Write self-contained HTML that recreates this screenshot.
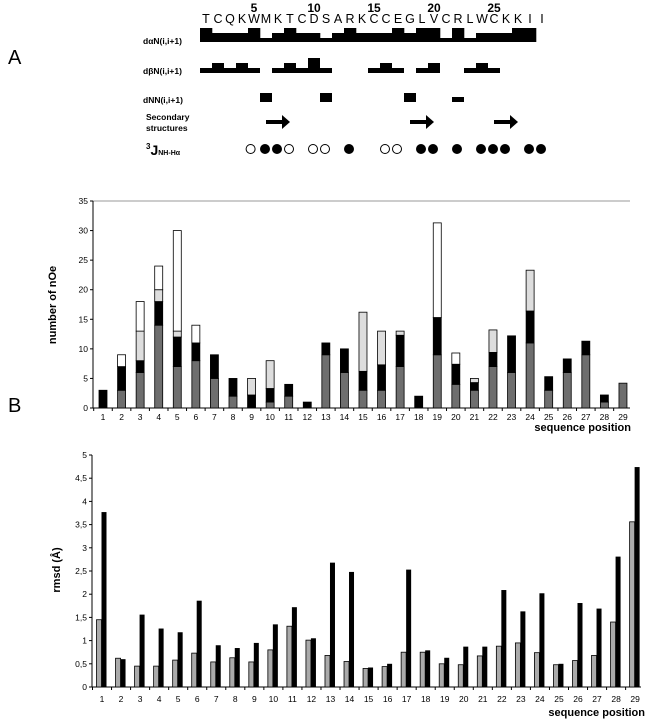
<!DOCTYPE html>
<html><head><meta charset="utf-8"><style>
body{margin:0;background:#fff;}
svg{display:block;font-family:"Liberation Sans",Arial,sans-serif;}
</style></head><body>
<svg id="fig" width="650" height="720" viewBox="0 0 650 720">
<g id="panelA">
<text x="8" y="64" font-size="20">A</text>
<text x="143" y="44" font-size="8.5" font-weight="bold">dαN(i,i+1)</text>
<text x="143" y="74" font-size="8.5" font-weight="bold">dβN(i,i+1)</text>
<text x="143" y="103" font-size="8.5" font-weight="bold">dNN(i,i+1)</text>
<text x="146" y="120" font-size="8.5" font-weight="bold">Secondary</text>
<text x="146" y="131" font-size="8.5" font-weight="bold">structures</text>
<text x="146" y="155" font-size="14" font-weight="bold"><tspan font-size="8" dy="-6">3</tspan><tspan dy="6">J</tspan><tspan font-size="7">NH-Hα</tspan></text>
</g>
<g id="chartB"></g>
<g id="chartC"></g>
<text x="8" y="412" font-size="20">B</text>
</svg>
<script>
const residues = ["T","C","Q","K","W","M","K","T","C","D","S","A","R","K","C","C","E","G","L","V","C","R","L","W","C","K","K","I","I"];
const residueNumbers = [5,10,15,20,25];
const danLevels = [2,1,1,1,2,0,1,2,1,1,0,1,2,1,1,1,2,1,2,2,0,2,0,1,1,1,2,2];
const dbnSegments = [[0,4],[6,10],[14,16],[18,19],[22,24]];
const dbnBumps = [[1,1],[3,1],[7,1],[9,2],[15,1],[19,1],[23,1]];
const dnnBlocks = [[5,1],[10,1],[17,1],[21,0.5]];
const strandArrows = [[5.5,7.5],[17.5,19.5],[24.5,26.5]];
const jResidues = [3.8,5,6,7,9,10,12,15,16,18,19,21,23,24,25,27,28];
const jFilled = [0,1,1,0,0,0,1,0,0,1,1,1,1,1,1,1,1];

const positions = [];for(let i=1;i<=29;i++)positions.push(i);
const noeGray =  [0,3,6,14,7,8,5,2,0,1,2,0,9,6,3,3,7,0,9,4,3,7,6,11,3,6,9,1,4.2];
const noeBlack = [3,7,8,18,12,11,9,5,2.2,3.3,4,1,11,10,6.2,7.3,12.3,2,15.3,7.4,4.3,9.4,12.2,16.4,5.3,8.3,11.3,2.2,4.2];
const noeLight = [3,7,13,20,13,11,9,5,5,8,4,1,11,10,16.2,13,13,2,15.3,7.4,5,13.2,12.2,23.3,5.3,8.3,11.3,2.2,4.2];
const noeWhite = [3,9,18,24,30,14,9,5,5,8,4,1,11,10,16.2,13,13,2,31.3,9.3,5,13.2,12.2,23.3,5.3,8.3,11.3,2.2,4.2];
const noeTicks = [0,5,10,15,20,25,30,35];

const rmsdGray =  [1.45,0.62,0.45,0.45,0.58,0.73,0.54,0.63,0.54,0.8,1.31,1.01,0.68,0.55,0.4,0.44,0.75,0.75,0.5,0.48,0.67,0.88,0.95,0.74,0.48,0.57,0.68,1.4,3.56];
const rmsdBlack = [3.77,0.6,1.56,1.26,1.18,1.86,0.9,0.84,0.95,1.35,1.72,1.05,2.68,2.48,0.42,0.5,2.53,0.79,0.63,0.87,0.87,2.09,1.63,2.02,0.5,1.81,1.69,2.81,4.74];
const rmsdTicks = ["0","0,5","1","1,5","2","2,5","3","3,5","4","4,5","5"];

const NS="http://www.w3.org/2000/svg";
function mk(parent,tag,attrs){const e=document.createElementNS(NS,tag);for(const k in attrs)e.setAttribute(k,attrs[k]);parent.appendChild(e);return e;}

// Panel A
const A=document.getElementById('panelA');
const rx=i=>200+12*i; // residue left edge
residues.forEach((r,i)=>{
  const t=mk(A,'text',{x:rx(i)+6,y:23,'font-size':12.5,'text-anchor':'middle'});
  t.textContent=r;
  
  
});
residueNumbers.forEach(n=>{
  const t=mk(A,'text',{x:rx(n-1)+6,y:12,'font-size':12,'font-weight':'bold','text-anchor':'middle'});
  t.textContent=n;
  
  
});
const danTop=[38,33,28];
danLevels.forEach((l,i)=>{
  const r=mk(A,'rect',{x:rx(i),y:danTop[l],width:12.3,height:42-danTop[l],fill:'#000'});
  
  
});
dbnSegments.forEach(s=>{
  const r=mk(A,'rect',{x:rx(s[0]),y:68,width:12*(s[1]-s[0]+1),height:5,fill:'#000'});
  
  
});
dbnBumps.forEach(b=>{
  const top=b[1]===2?58:63;
  const r=mk(A,'rect',{x:rx(b[0]),y:top,width:12,height:73-top,fill:'#000'});
  
  
});
dnnBlocks.forEach(b=>{
  const h=b[1]===1?9:5;
  const r=mk(A,'rect',{x:rx(b[0]),y:102-h,width:12,height:h,fill:'#000'});
  
  
});
strandArrows.forEach(a=>{
  const x1=rx(a[0])+6-6,x2=rx(a[1])+6-6;
  const g=mk(A,'g',{});
  
  
  mk(g,'rect',{x:x1,y:120,width:x2-x1-7,height:4,fill:'#000'});
  mk(g,'polygon',{points:`${x2-8},115 ${x2},122 ${x2-8},129`,fill:'#000'});
});
jResidues.forEach((r,i)=>{
  const c=mk(A,'circle',{cx:rx(r)+5,cy:149,r:4.5,fill:jFilled[i]?'#000':'#fff',stroke:'#000','stroke-width':1});
  
  
});

// Chart B (nOe)
const B=document.getElementById('chartB');
const bx0=93,bx1=630,by0=408,by1=201;
const byS=v=>by0-(v/35)*(by0-by1);
const bxC=p=>103+(p-1)*18.57;
mk(B,'line',{x1:bx0,y1:by1,x2:bx1,y2:by1,stroke:'#999','stroke-width':1});
mk(B,'line',{x1:bx0,y1:by1,x2:bx0,y2:by0,stroke:'#000','stroke-width':1});
mk(B,'line',{x1:bx0,y1:by0,x2:bx1,y2:by0,stroke:'#000','stroke-width':1});
noeTicks.forEach(t=>{
  mk(B,'line',{x1:bx0-3,y1:byS(t),x2:bx0,y2:byS(t),stroke:'#000'});
  const tx=mk(B,'text',{x:bx0-5,y:byS(t)+3,'font-size':8.5,'text-anchor':'end'});
  tx.textContent=t;
  
  
});
positions.forEach((p,i)=>{
  mk(B,'line',{x1:bxC(p)-9.3,y1:by0,x2:bxC(p)-9.3,y2:by0+3,stroke:'#000'});
  const tx=mk(B,'text',{x:bxC(p),y:by0+12,'font-size':8.5,'text-anchor':'middle'});
  tx.textContent=p;
  
  
  const segs=[[0,noeGray[i],'#6e6e6e'],[noeGray[i],noeBlack[i],'#000'],[noeBlack[i],noeLight[i],'#ddd'],[noeLight[i],noeWhite[i],'#fff']];
  segs.forEach((s,k)=>{
    if(s[1]-s[0]<=0)return;
    const r=mk(B,'rect',{x:bxC(p)-4,y:byS(s[1]),width:8,height:byS(s[0])-byS(s[1]),fill:s[2],stroke:'#000','stroke-width':0.8});
    
    
  });
});
const bt=mk(B,'text',{x:0,y:0,'font-size':11,'font-weight':'bold','text-anchor':'middle',transform:'translate(56,305) rotate(-90)'});
bt.textContent='number of nOe';


const bxt=mk(B,'text',{x:631,y:431,'font-size':11,'font-weight':'bold','text-anchor':'end'});
bxt.textContent='sequence position';



// Chart C (rmsd)
const C=document.getElementById('chartC');
const cx0=92,cx1=641,cy0=687,cy1=455;
const cyS=v=>cy0-(v/5)*(cy0-cy1);
const cxC=p=>102+(p-1)*19.04;
mk(C,'line',{x1:cx0,y1:cy1,x2:cx0,y2:cy0,stroke:'#000'});
mk(C,'line',{x1:cx0,y1:cy0,x2:cx1,y2:cy0,stroke:'#000'});
rmsdTicks.forEach((t,i)=>{
  const y=cyS(i*0.5);
  mk(C,'line',{x1:cx0-3,y1:y,x2:cx0,y2:y,stroke:'#000'});
  const tx=mk(C,'text',{x:cx0-5,y:y+3,'font-size':8.5,'text-anchor':'end'});
  tx.textContent=t;
  
  
});
positions.forEach((p,i)=>{
  mk(C,'line',{x1:cxC(p)-9.5,y1:cy0,x2:cxC(p)-9.5,y2:cy0+3,stroke:'#000'});
  const tx=mk(C,'text',{x:cxC(p),y:cy0+15,'font-size':8.5,'text-anchor':'middle'});
  tx.textContent=p;
  
  
  const g=mk(C,'rect',{x:cxC(p)-5.5,y:cyS(rmsdGray[i]),width:5,height:cy0-cyS(rmsdGray[i]),fill:'#aaa',stroke:'#000','stroke-width':0.8});
  
  
  const b=mk(C,'rect',{x:cxC(p)-0.5,y:cyS(rmsdBlack[i]),width:5,height:cy0-cyS(rmsdBlack[i]),fill:'#000'});
  
  
});
const ct=mk(C,'text',{x:0,y:0,'font-size':11,'font-weight':'bold','text-anchor':'middle',transform:'translate(60,570) rotate(-90)'});
ct.textContent='rmsd (Å)';


const cxt=mk(C,'text',{x:645,y:716,'font-size':11,'font-weight':'bold','text-anchor':'end'});
cxt.textContent='sequence position';


</script>
</body></html>
